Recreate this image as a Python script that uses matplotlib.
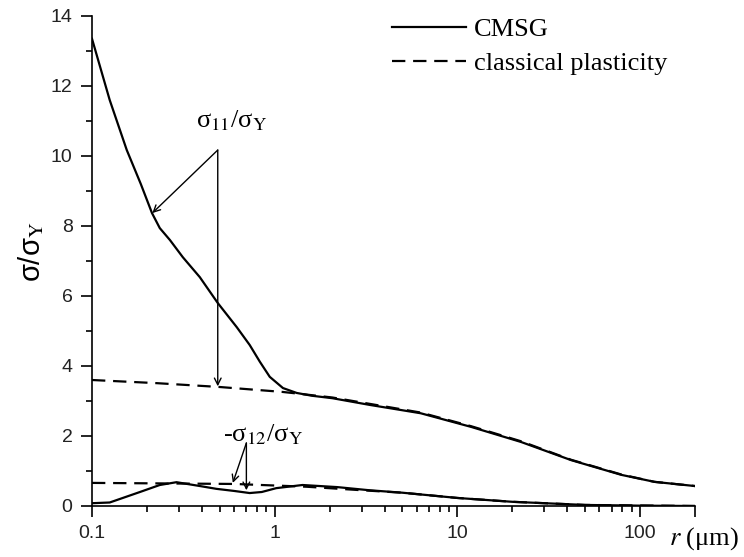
import matplotlib
matplotlib.use('Agg')
from matplotlib import pyplot as plt
from matplotlib.ticker import LogLocator, NullFormatter, FixedLocator

# sigma_11 / sigma_Y
r_cmsg11 = [0.1, 0.125, 0.155, 0.185, 0.213, 0.235, 0.267, 0.314, 0.389, 0.488,
            0.62, 0.73, 0.83, 0.94, 1.11, 1.32, 1.6, 2.07, 3.3, 6.3, 11.9, 22.3, 42, 79, 120, 200]
s_cmsg11 = [13.35, 11.6, 10.17, 9.2, 8.37, 7.94, 7.6, 7.11, 6.54, 5.8,
            5.11, 4.6, 4.12, 3.69, 3.37, 3.23, 3.15, 3.08, 2.89, 2.65, 2.26, 1.83, 1.31, 0.89, 0.69, 0.57]
r_cl11 = [0.1, 0.226, 0.5, 1.1, 1.4, 2.07, 3.3, 6.3, 11.9, 22.3, 42, 79, 120, 200]
s_cl11 = [3.6, 3.51, 3.4, 3.26, 3.2, 3.1, 2.92, 2.67, 2.28, 1.85, 1.32, 0.9, 0.69, 0.57]

# -sigma_12 / sigma_Y
r_cmsg12 = [0.1, 0.125, 0.183, 0.235, 0.29, 0.39, 0.48, 0.6, 0.73, 0.85, 1.02, 1.42,
            2.2, 3.3, 5, 10, 20, 30, 50, 100, 200]
s_cmsg12 = [0.08, 0.1, 0.4, 0.6, 0.68, 0.57, 0.49, 0.43, 0.37, 0.4, 0.51, 0.6,
            0.54, 0.45, 0.38, 0.23, 0.12, 0.08, 0.03, 0.01, 0.0]
r_cl12 = [0.1, 0.6, 1.5, 3, 5, 10, 20, 50, 200]
s_cl12 = [0.66, 0.63, 0.55, 0.45, 0.38, 0.23, 0.12, 0.03, 0.0]

fig = plt.figure(figsize=(7.44, 5.57), dpi=100)
ax = fig.add_axes([92/744, 51/557, 603/744, 490/557])

lw = 1.6
ax.plot(r_cmsg11, s_cmsg11, 'k-', lw=lw, label='CMSG')
ax.plot(r_cl11, s_cl11, 'k--', lw=lw, dashes=(6, 3.5), label='classical plasticity')
ax.plot(r_cmsg12, s_cmsg12, 'k-', lw=lw)
ax.plot(r_cl12, s_cl12, 'k--', lw=lw, dashes=(6, 3.5))

ax.set_xscale('log')
ax.set_xlim(0.1, 200)
ax.set_ylim(0, 14)
ax.xaxis.set_major_locator(FixedLocator([0.1, 1, 10, 100, 200]))
ax.set_xticklabels(['0.1', '1', '10', '100', ''])
ax.xaxis.set_minor_locator(LogLocator(base=10, subs=range(2, 10), numticks=20))
ax.xaxis.set_minor_formatter(NullFormatter())
ax.set_yticks([0, 2, 4, 6, 8, 10, 12, 14])
ax.set_yticks([1, 3, 5, 7, 9, 11, 13], minor=True)

for s in ['top', 'right']:
    ax.spines[s].set_visible(False)
for s in ['left', 'bottom']:
    ax.spines[s].set_linewidth(1.2)
ax.tick_params(which='major', direction='out', length=8, width=1.2, pad=6,
               labelsize=14, labelfontfamily='Liberation Sans', labelcolor='#222222')
ax.tick_params(which='minor', direction='out', length=4.5, width=1.2)

ax.set_ylabel('σ/σ$_{\\rm Y}$', fontsize=21, family='Liberation Sans',
              math_fontfamily='stix')
ax.yaxis.set_label_coords((46 - 92) / 603, 0.52)

fig.text(669/744, 1 - 545/557, r'$r$ (μm)', fontsize=19, family='Liberation Serif',
         math_fontfamily='stix', ha='left', va='baseline')

# annotations
arw = dict(arrowstyle='->', color='k', lw=1.0, shrinkA=0, shrinkB=0, mutation_scale=12)
ax.text(0.58, 11.0, 'σ$_{11}$/σ$_{\\rm Y}$', fontsize=19, family='Liberation Serif',
        math_fontfamily='stix', ha='center', va='center')
ax.annotate('', xy=(0.214, 8.37), xytext=(0.488, 10.17), arrowprops=arw)
ax.annotate('', xy=(0.488, 3.42), xytext=(0.488, 10.17), arrowprops=arw)

ax.text(0.86, 2.05, '-σ$_{12}$/σ$_{\\rm Y}$', fontsize=19, family='Liberation Serif',
        math_fontfamily='stix', ha='center', va='center')
ax.annotate('', xy=(0.59, 0.66), xytext=(0.70, 1.8), arrowprops=arw)
ax.annotate('', xy=(0.70, 0.45), xytext=(0.70, 1.8), arrowprops=arw)

leg = fig.legend(loc='upper left', bbox_to_anchor=(392/744, 1 - 18/557), frameon=False,
                 prop={'family': 'Liberation Serif', 'size': 19}, handlelength=2.8,
                 handletextpad=0.3, labelspacing=0.4, borderpad=0, borderaxespad=0)

fig.savefig('out.png', dpi=100)
